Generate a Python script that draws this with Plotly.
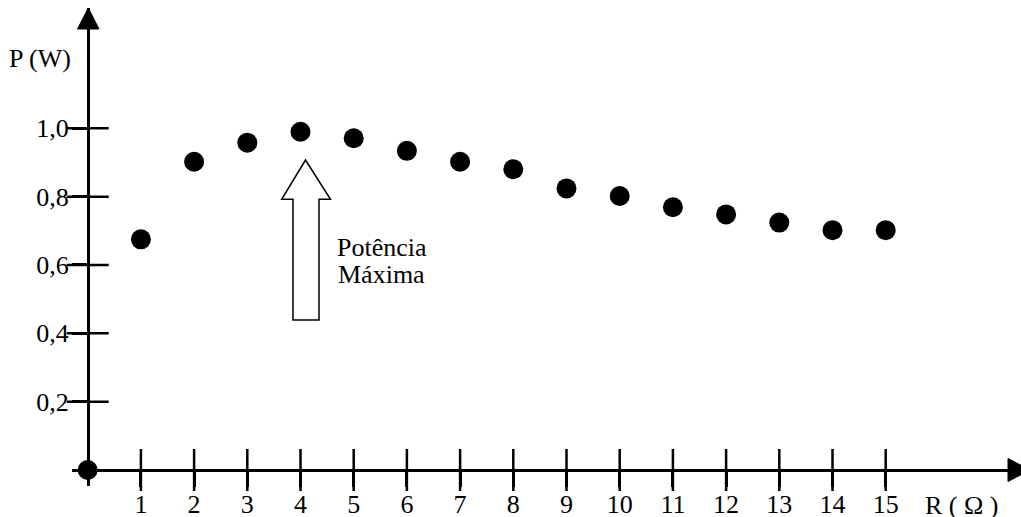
import plotly.graph_objects as go

# ---- data ----
R_values = [0, 1, 2, 3, 4, 5, 6, 7, 8, 9, 10, 11, 12, 13, 14, 15]
P_values = [0.0, 0.675, 0.902, 0.958, 0.990, 0.971, 0.934, 0.902, 0.880,
            0.824, 0.802, 0.769, 0.748, 0.724, 0.702, 0.702]
x_ticks = [1, 2, 3, 4, 5, 6, 7, 8, 9, 10, 11, 12, 13, 14, 15]
x_tick_labels = [str(v) for v in x_ticks]
y_ticks = [0.2, 0.4, 0.6, 0.8, 1.0]
y_tick_labels = ["0,2", "0,4", "0,6", "0,8", "1,0"]

# ---- geometry (pixel mapping of the page) ----
W, H = 1021, 517
X0PX, XS = 87.7, 53.2      # pixel of x=0, pixels per unit
Y0PX, YS = 470.0, 341.7    # pixel of y=0, pixels per unit


def xd(px):
    return (px - X0PX) / XS


def yd(py):
    return (Y0PX - py) / YS


FONT = "Liberation Serif, Times New Roman, serif"
FS = 26

fig = go.Figure()

# tick marks crossing the axes
fig.add_trace(go.Scatter(
    x=x_ticks, y=[0] * len(x_ticks), mode="markers",
    marker=dict(symbol="line-ns", size=30, color="black",
                line=dict(color="black", width=2.5)),
    hoverinfo="skip", showlegend=False, cliponaxis=False))
fig.add_trace(go.Scatter(
    x=[0] * len(y_ticks), y=y_ticks, mode="markers",
    marker=dict(symbol="line-ew", size=30, color="black",
                line=dict(color="black", width=2.5)),
    hoverinfo="skip", showlegend=False, cliponaxis=False))

# data points
fig.add_trace(go.Scatter(
    x=R_values, y=P_values, mode="markers",
    marker=dict(size=20, color="black"),
    showlegend=False, cliponaxis=False))

# hollow block arrow pointing at the maximum
arrow_pts = [(305.5, 160), (330.5, 199.3), (319, 199.3), (319, 320),
             (293, 320), (293, 199.3), (281.7, 199.3)]
path = "M " + " L ".join(f"{xd(a):.4f},{yd(b):.4f}" for a, b in arrow_pts) + " Z"
fig.add_shape(type="path", path=path, xref="x", yref="y",
              line=dict(color="black", width=1.5), fillcolor="white")

# axis arrowheads
yhead = [(88.3, 8), (99, 29), (77.5, 29)]
fig.add_shape(type="path", xref="x", yref="y",
              path="M " + " L ".join(f"{xd(a):.4f},{yd(b):.4f}" for a, b in yhead) + " Z",
              line=dict(color="black", width=1), fillcolor="black")
xhead = [(1030, 470), (1008, 458.5), (1008, 481.5)]
fig.add_shape(type="path", xref="x", yref="y",
              path="M " + " L ".join(f"{xd(a):.4f},{yd(b):.4f}" for a, b in xhead) + " Z",
              line=dict(color="black", width=1), fillcolor="black")

# texts
fig.add_annotation(text="Potência", x=xd(335), y=yd(247), xref="x", yref="y",
                   xanchor="left", yanchor="middle", showarrow=False,
                   font=dict(family=FONT, size=FS, color="black"))
fig.add_annotation(text="Máxima", x=xd(336), y=yd(274), xref="x", yref="y",
                   xanchor="left", yanchor="middle", showarrow=False,
                   font=dict(family=FONT, size=FS, color="black"))
fig.add_annotation(text="P (W)", x=40 / W, y=1 - 58 / H, xref="paper", yref="paper",
                   xanchor="center", yanchor="middle", showarrow=False,
                   font=dict(family=FONT, size=FS, color="black"))
fig.add_annotation(text="R ( Ω )", x=961 / W, y=1 - 505 / H, xref="paper", yref="paper",
                   xanchor="center", yanchor="middle", showarrow=False,
                   font=dict(family=FONT, size=FS, color="black"))

fig.update_layout(
    width=W, height=H, autosize=False,
    margin=dict(l=0, r=0, t=0, b=0, pad=0, autoexpand=False),
    paper_bgcolor="white", plot_bgcolor="white",
    showlegend=False,
    xaxis=dict(domain=[72 / W, 1.0], range=[xd(72), xd(W)],
               anchor="free", position=1 - Y0PX / H, automargin=False,
               showline=True, linecolor="black", linewidth=2.5,
               showgrid=False, zeroline=False,
               tickvals=x_ticks, ticktext=x_tick_labels,
               ticks="outside", ticklen=15, tickwidth=2.5, tickcolor="black",
               ticklabelstandoff=-5,
               tickfont=dict(family=FONT, size=FS, color="black"),
               fixedrange=True),
    yaxis=dict(domain=[1 - 486 / H, 1 - 8 / H], range=[yd(486), yd(8)],
               anchor="free", position=X0PX / W, automargin=False,
               showline=True, linecolor="black", linewidth=2.5,
               showgrid=False, zeroline=False,
               tickvals=y_ticks, ticktext=y_tick_labels,
               ticks="outside", ticklen=15, tickwidth=2.5, tickcolor="black",
               ticklabelstandoff=-2,
               tickfont=dict(family=FONT, size=FS, color="black"),
               fixedrange=True),
)

fig.write_html("out.html", config={"displayModeBar": False},
               post_script="document.body.style.margin='0';"
                           "document.body.style.overflow='hidden';")
